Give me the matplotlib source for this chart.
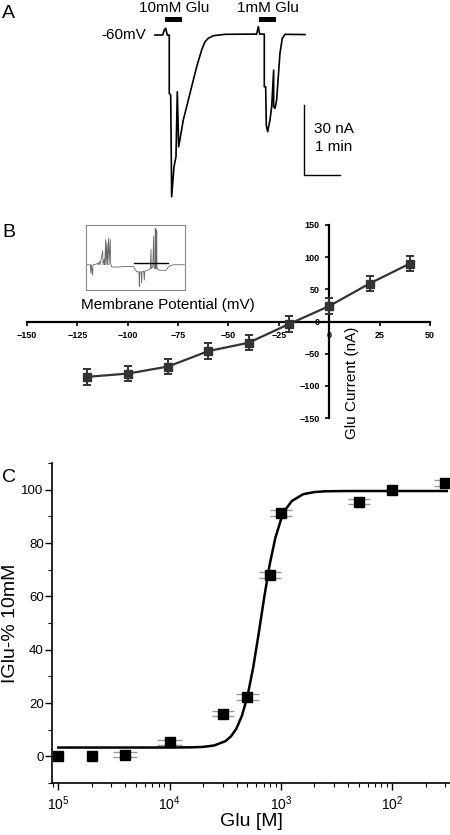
import numpy as np
import matplotlib
matplotlib.use('Agg')
import matplotlib.pyplot as plt
from matplotlib.ticker import FixedLocator, FixedFormatter, MultipleLocator, LogLocator, NullFormatter

plt.rcParams['font.family'] = ['Liberation Sans', 'DejaVu Sans']
plt.rcParams['mathtext.fontset'] = 'custom'
plt.rcParams['mathtext.rm'] = 'Liberation Sans'

W, H = 450, 835

# ---- panel A: current trace (time in s, current in nA) ----
trace_t = [0, 12.8, 15.5, 17.8, 20.5, 23.8, 23.8, 26.2, 27.8, 31.7, 35.0, 37.2, 39.5,
           47.2, 58.3, 69.5, 77.8, 83.3, 88.8, 97.2, 116.7,
           169.5, 172.2, 174.5, 182.2, 182.2, 184.5, 185.5, 187.8, 191.7, 194.5,
           197.8, 197.8, 200.0, 202.8, 205.5, 208.3, 212.2, 216.7, 250.0]
trace_i = [0, 0, 2.1, 2.9, 0, 0, -25.0, -25.7, -69.3, -56.4, -52.2, -24.3, -47.9,
           -36.4, -25.0, -13.6, -6.4, -2.9, -1.4, -0.3, 0.3,
           0.4, 3.6, 0.4, 0.4, -22.2, -22.2, -38.6, -41.4, -36.4, -30.7,
           -15.0, -30.7, -31.4, -27.9, -17.9, -7.8, -1.4, 0.3, 0.2]
drug_labels = ['10mM Glu', '1mM Glu']
drug_start = [16.7, 173.8]
drug_end = [44.5, 201.2]
scale_na = 30
scale_s = 60

# ---- panel B: I-V curve ----
vm = [-120, -100, -80, -60, -40, -20, 0, 20, 40]
i_glu = [-86, -81, -70, -46, -33, -4, 24, 59, 90]
i_err = [12, 12, 12, 12, 12, 12, 12, 12, 12]

# inset trace (arbitrary units)
inset_x = [0, 4.3, 5, 5.3, 6.7, 7, 10, 11.7, 12.3, 13.3, 14, 16.7, 17, 18.3, 18.7,
           19.7, 20, 21, 21.3, 22.7, 23, 24.3, 24.7, 25.7, 31.7, 41.7, 47.7, 49,
           51, 53, 53.3, 53.7, 55, 55.7, 56, 57.7, 58.3, 58.7, 61.7, 64.3, 65, 65.3,
           66.7, 67.7, 68, 69, 69.3, 69.7, 70.3, 70.7, 71, 73.3, 80, 82.3, 84.3, 88.3, 98.3]
inset_y = [0, 0, -9, 0, -10.7, 0, 0.7, 1.3, 0, 3.3, 0, 14.3, 0, 6, 0,
           26, 0, 22.7, 0, 27.7, 0, 26, 1, -2.3, -2.3, -1.7, -1.7, -4.7,
           -7.3, -7.3, -22.3, -7.3, -7.3, -19, -7.3, -6.7, -15.7, -6.7, -5.7, -4, 16, -4,
           -2.3, 29.3, -2.3, -4, 37.7, -4, -4, 36, -4, -5.7, -5.7, -2.3, -0.7, 0, 0]

# ---- panel C: dose response ----
glu_conc = [1e-5, 2e-5, 4e-5, 1e-4, 3e-4, 5e-4, 8e-4, 1e-3, 5e-3, 1e-2, 3e-2]
glu_pct = [0, 0, 0.6, 5.2, 16, 22.2, 68, 91.2, 95.5, 100, 102.5]
glu_xerr_dec = [0, 0, 0.11, 0.11, 0.1, 0.1, 0.1, 0.1, 0.1, 0, 0.1]
fit_logx = [-5.0, -4.5, -4.0, -3.8, -3.7, -3.6, -3.5, -3.45, -3.4, -3.35, -3.3, -3.25,
            -3.2, -3.15, -3.1, -3.05, -3.0, -2.95, -2.9, -2.8, -2.7, -2.6, -2.4, -2.0, -1.51]
fit_y = [3.3, 3.3, 3.31, 3.38, 3.54, 4.06, 5.66, 7.41, 10.37, 15.2, 22.6, 33.0,
         45.9, 59.6, 72.1, 81.9, 88.7, 93.1, 95.8, 98.3, 99.1, 99.4, 99.5, 99.5, 99.5]


def fx(px):
    return px / W


def fy(py):
    return 1 - py / H


fig = plt.figure(figsize=(4.5, 8.35), dpi=100)

# panel A
ax_a = fig.add_axes([0, fy(215), 1, 215 / H])
ax_a.set_xlim(-258.3, 491.7)
ax_a.set_ylim(-77.1, 15)
ax_a.axis('off')
ax_a.plot(trace_t, trace_i, color='black', lw=1.2)
for lab, t0, t1 in zip(drug_labels, drug_start, drug_end):
    ax_a.fill_between([t0, t1], 5.7, 7.8, color='black', lw=0)
    ax_a.text((t0 + t1) / 2 + 1, 11.5, lab, ha='center', va='center', fontsize=11)
ax_a.text(-15, 0, '-60mV', ha='right', va='center', fontsize=11)
sb_t, sb_i = 248.3, -60
ax_a.plot([sb_t, sb_t, sb_t + scale_s], [sb_i + scale_na, sb_i, sb_i], color='black', lw=1.0)
ax_a.text(sb_t + 16, -40.3, '%d nA' % scale_na, ha='left', va='center', fontsize=11)
ax_a.text(sb_t + 18, -48.0, '1 min', ha='left', va='center', fontsize=11)
fig.text(fx(2), fy(13.5), 'A', ha='left', va='center', fontsize=14)

# panel B
ax_b = fig.add_axes([fx(27), fy(418), 403 / W, (418 - 225) / H])
ax_b.set_xlim(-150, 50)
ax_b.set_ylim(-150, 150)
ax_b.patch.set_alpha(0)
for s in ['top', 'right']:
    ax_b.spines[s].set_visible(False)
ax_b.spines['left'].set_position(('data', 0))
ax_b.spines['bottom'].set_position(('data', 0))
ax_b.spines['left'].set_linewidth(1.6)
ax_b.spines['bottom'].set_linewidth(1.6)
ax_b.set_xticks(np.arange(-150, 51, 25))
ax_b.set_yticks(np.arange(-150, 151, 50))
ax_b.tick_params(axis='both', labelsize=6.5, length=3, width=1.2, direction='out', pad=4)
for lab in ax_b.get_xticklabels() + ax_b.get_yticklabels():
    lab.set_fontweight('bold')
ax_b.errorbar(vm, i_glu, yerr=i_err, color='#333333', marker='s', markersize=6,
              lw=1.6, elinewidth=1.4, capsize=3, capthick=1.4, zorder=3)
fig.text(fx(168), fy(305), 'Membrane Potential (mV)', ha='center', va='center', fontsize=11)
fig.text(fx(352), fy(383), 'Glu Current (nA)', ha='center', va='center', fontsize=11,
         rotation=90)
fig.text(fx(2), fy(232.5), 'B', ha='left', va='center', fontsize=14)

# inset
ax_in = fig.add_axes([fx(86), fy(290), 99 / W, 65 / H])
ax_in.set_xlim(0, 99)
ax_in.set_ylim(-26, 41)
ax_in.set_xticks([])
ax_in.set_yticks([])
for s in ax_in.spines.values():
    s.set_color('#888888')
    s.set_linewidth(0.8)
ax_in.plot(inset_x, inset_y, color='#666666', lw=0.6)
ax_in.plot([48, 82], [1.5, 1.5], color='black', lw=1.0)

# panel C
ax_c = fig.add_axes([fx(52), fy(783), (450 - 52) / W, (783 - 463) / H])
ax_c.set_xscale('log')
ax_c.set_xlim(8.8e-6, 0.033)
ax_c.set_ylim(-10, 110)
for s in ['top', 'right']:
    ax_c.spines[s].set_visible(False)
ax_c.spines['left'].set_linewidth(1.2)
ax_c.spines['bottom'].set_linewidth(1.2)
ax_c.xaxis.set_major_locator(FixedLocator([1e-5, 1e-4, 1e-3, 1e-2]))
ax_c.xaxis.set_major_formatter(FixedFormatter([r'$\mathregular{10^5}$', r'$\mathregular{10^4}$',
                                               r'$\mathregular{10^3}$', r'$\mathregular{10^2}$']))
ax_c.xaxis.set_minor_locator(LogLocator(base=10, subs=np.arange(2, 10)))
ax_c.xaxis.set_minor_formatter(NullFormatter())
ax_c.yaxis.set_major_locator(FixedLocator([0, 20, 40, 60, 80, 100]))
ax_c.yaxis.set_minor_locator(MultipleLocator(10))
ax_c.tick_params(axis='both', which='major', direction='out', length=5, width=1.0, labelsize=10)
ax_c.tick_params(axis='both', which='minor', direction='out', length=3, width=0.8)
ax_c.tick_params(axis='y', labelsize=9.5, pad=1)

xs = np.array(glu_conc)
lo = xs - xs / 10 ** np.array(glu_xerr_dec)
hi = xs * 10 ** np.array(glu_xerr_dec) - xs
for dy in (-1.0, 1.0):
    ax_c.errorbar(xs, np.array(glu_pct) + dy, xerr=[lo, hi], fmt='none', ecolor='#999999',
                  elinewidth=1.0, capsize=0, zorder=2)
ax_c.plot(10 ** np.array(fit_logx), fit_y, color='black', lw=1.8, zorder=3)
ax_c.plot(glu_conc, glu_pct, 's', color='black', markersize=6.5, zorder=4, clip_on=False)
ax_c.set_xlabel('Glu [M]', fontsize=14, labelpad=0)
ax_c.set_ylabel('IGlu-% 10mM', fontsize=14, labelpad=2)
fig.text(fx(2), fy(477), 'C', ha='left', va='center', fontsize=14)

fig.savefig('out.png', dpi=100)
